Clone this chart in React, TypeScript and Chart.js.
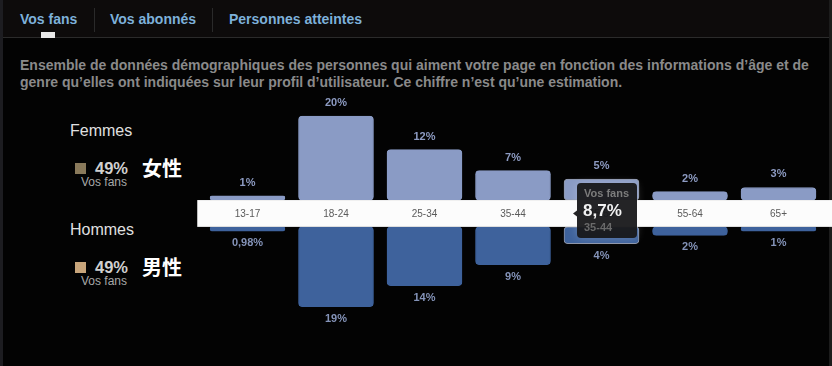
import React, { useEffect, useRef } from "react";
import { Chart, registerables } from "chart.js";

Chart.register(...registerables);

const categories = ["13-17", "18-24", "25-34", "35-44", "45-54", "55-64", "65+"];
const femmesValues = [1, 20, 12, 7, 5, 2, 3];
const hommesValues = [0.98, 19, 14, 9, 4, 2, 1];
const tabs = ["Vos fans", "Vos abonnés", "Personnes atteintes"];
const descriptionLines = [
  "Ensemble de données démographiques des personnes qui aiment votre page en fonction des informations d’âge et de",
  "genre qu’elles ont indiquées sur leur profil d’utilisateur. Ce chiffre n’est qu’une estimation.",
];
const legendGroups = ["Femmes", "Hommes"];
const legendShares = ["49%", "49%"];
const legendSub = "Vos fans";
const legendCjk = ["女性", "男性"];
const tooltipTitle = "Vos fans";
const tooltipValue = "8,7%";
const tooltipLabel = "35-44";
const hoveredIndex = 4;

const GAP = 3.2;
const FONT = "'Liberation Sans', Arial, sans-serif";
const fmt = (v: number) => String(v).replace(".", ",") + "%";

function roundRect(ctx: CanvasRenderingContext2D, x: number, y: number, w: number, h: number, r: number) {
  ctx.beginPath();
  ctx.moveTo(x + r, y);
  ctx.lineTo(x + w - r, y);
  ctx.quadraticCurveTo(x + w, y, x + w, y + r);
  ctx.lineTo(x + w, y + h - r);
  ctx.quadraticCurveTo(x + w, y + h, x + w - r, y + h);
  ctx.lineTo(x + r, y + h);
  ctx.quadraticCurveTo(x, y + h, x, y + h - r);
  ctx.lineTo(x, y + r);
  ctx.quadraticCurveTo(x, y, x + r, y);
  ctx.closePath();
}

const overlayPlugin = {
  id: "overlay",
  afterDatasetsDraw(chart: any) {
    const ctx: CanvasRenderingContext2D = chart.ctx;
    const x = chart.scales.x;
    const y = chart.scales.y;
    const top = y.getPixelForValue(GAP);
    const bot = y.getPixelForValue(-GAP);
    ctx.save();
    // band
    ctx.fillStyle = "#fcfcfc";
    ctx.fillRect(chart.chartArea.left - 6, top, chart.width - (chart.chartArea.left - 6), bot - top);
    ctx.fillStyle = "rgba(0,0,0,0.08)";
    ctx.fillRect(chart.chartArea.left - 6, bot - 1, chart.width - (chart.chartArea.left - 6), 1);
    // category labels
    ctx.font = `10px ${FONT}`;
    ctx.fillStyle = "#5a5a5a";
    ctx.textAlign = "center";
    ctx.textBaseline = "middle";
    const mid = (top + bot) / 2;
    categories.forEach((c, i) => {
      ctx.fillText(c, x.getPixelForValue(i), mid + 1);
    });
    // value labels
    ctx.font = `bold 11px ${FONT}`;
    femmesValues.forEach((v, i) => {
      const py = y.getPixelForValue(GAP + v);
      ctx.fillStyle = "#8d9bc2";
      ctx.fillText(fmt(v), x.getPixelForValue(i), py - 13);
    });
    hommesValues.forEach((v, i) => {
      const py = y.getPixelForValue(-GAP - v);
      ctx.fillStyle = "#8493b8";
      ctx.fillText(fmt(v), x.getPixelForValue(i), py + 12);
    });
    // tooltip
    const cx = x.getPixelForValue(hoveredIndex);
    const bx = cx - 24.5;
    const by = mid - 30.5;
    const bw = 60;
    const bh = 55;
    ctx.shadowColor = "rgba(255,255,255,0.22)";
    ctx.shadowBlur = 10;
    ctx.fillStyle = "rgba(22,22,24,0.94)";
    roundRect(ctx, bx, by, bw, bh, 4);
    ctx.fill();
    ctx.shadowBlur = 0;
    ctx.shadowColor = "transparent";
    ctx.beginPath();
    ctx.moveTo(bx, mid - 3);
    ctx.lineTo(bx - 4, mid);
    ctx.lineTo(bx, mid + 3);
    ctx.closePath();
    ctx.fill();
    ctx.textAlign = "left";
    ctx.fillStyle = "#7c7c7c";
    ctx.font = `bold 11px ${FONT}`;
    ctx.fillText(tooltipTitle, bx + 7, by + 11);
    ctx.fillStyle = "#f2f2f2";
    ctx.font = `bold 17px ${FONT}`;
    ctx.fillText(tooltipValue, bx + 6, by + 28);
    ctx.fillStyle = "#6a6a6a";
    ctx.font = `bold 11px ${FONT}`;
    ctx.fillText(tooltipLabel, bx + 7, by + 45);
    ctx.restore();
  },
};

function ChartCanvas() {
  const ref = useRef<HTMLCanvasElement | null>(null);
  useEffect(() => {
    if (!ref.current) return;
    const hoverBorder = (base: string) =>
      categories.map((_, i) => (i === hoveredIndex ? "rgba(190,200,225,0.75)" : base));
    const chart = new Chart(ref.current, {
      type: "bar",
      data: {
        labels: categories,
        datasets: [
          {
            label: "Femmes",
            data: femmesValues.map((v) => [GAP, GAP + v]) as any,
            backgroundColor: "#8a9bc5",
            borderColor: hoverBorder("#8a9bc5"),
            borderWidth: 1,
            borderRadius: 4,
            borderSkipped: false,
            barThickness: 75,
            grouped: false,
          } as any,
          {
            label: "Hommes",
            data: hommesValues.map((v) => [-GAP, -GAP - v]) as any,
            backgroundColor: "#3e629c",
            borderColor: hoverBorder("#3e629c"),
            borderWidth: 1,
            borderRadius: 4,
            borderSkipped: false,
            barThickness: 75,
            grouped: false,
          } as any,
        ],
      },
      options: {
        responsive: false,
        animation: false,
        devicePixelRatio: 1,
        events: [],
        layout: { padding: { left: 203.25, right: 9.25, top: 87.5, bottom: 26.5 } },
        plugins: { legend: { display: false }, tooltip: { enabled: false } },
        scales: {
          x: { display: false },
          y: { display: false, min: -30, max: 30 },
        },
      },
      plugins: [overlayPlugin],
    });
    return () => chart.destroy();
  }, []);
  return (
    <canvas
      ref={ref}
      width={832}
      height={366}
      style={{ position: "absolute", left: 0, top: 0, width: 832, height: 366 }}
    />
  );
}

export default function App() {
  const abs = (s: React.CSSProperties): React.CSSProperties => ({ position: "absolute", whiteSpace: "nowrap", ...s });
  const tabX = [20, 110, 229];
  return (
    <div style={abs({ left: 0, top: 0, width: 832, height: 366, background: "#030303", overflow: "hidden", fontFamily: FONT })}>
      <div style={abs({ left: 0, top: 0, width: 832, height: 37, background: "#0d0b0b" })} />
      <div style={abs({ left: 0, top: 37, width: 832, height: 1, background: "#2b2b2b" })} />
      <div style={abs({ left: 0, top: 0, width: 3, height: 366, background: "#1d1d21" })} />
      <div style={abs({ left: 829, top: 0, width: 3, height: 366, background: "#1c1c1c" })} />
      {tabs.map((t, i) => (
        <div key={t} style={abs({ left: tabX[i], top: 10, fontSize: 14, fontWeight: "bold", color: "#7db1da", lineHeight: "18px" })}>
          {t}
        </div>
      ))}
      <div style={abs({ left: 94, top: 8, width: 1, height: 24, background: "#2a2a2a" })} />
      <div style={abs({ left: 212, top: 8, width: 1, height: 24, background: "#2a2a2a" })} />
      <div style={abs({ left: 41, top: 32, width: 14, height: 6, background: "#e8e8e8" })} />
      {descriptionLines.map((l, i) => (
        <div key={i} style={abs({ left: 20, top: 57 + i * 17, fontSize: 14, fontWeight: "bold", color: "#8a8a8a", lineHeight: "17px" })}>
          {l}
        </div>
      ))}
      {legendGroups.map((g, i) => {
        const oy = i * 99;
        const swatch = i === 0 ? "#8a7a5b" : "#c8a57b";
        return (
          <React.Fragment key={g}>
            <div style={abs({ left: 70, top: 122 + oy, fontSize: 16, color: "#e0e0e0", lineHeight: "18px" })}>{g}</div>
            <div style={abs({ left: 75, top: 163 + oy, width: 11, height: 11, background: swatch })} />
            <div style={abs({ left: 95, top: 158 + oy, fontSize: 16.5, fontWeight: "bold", color: "#d0d0d0", lineHeight: "20px" })}>
              {legendShares[i]}
            </div>
            <div style={abs({ left: 60, width: 67, textAlign: "right", top: 175 + oy, fontSize: 12, color: "#a8a8a8", lineHeight: "14px" })}>
              {legendSub}
            </div>
            <div style={abs({ left: 142, top: 155 + oy, fontSize: 20, fontWeight: "bold", color: "#ffffff", lineHeight: "26px", fontFamily: "'Noto Sans CJK JP', sans-serif" })}>
              {legendCjk[i]}
            </div>
          </React.Fragment>
        );
      })}
      <ChartCanvas />
    </div>
  );
}
